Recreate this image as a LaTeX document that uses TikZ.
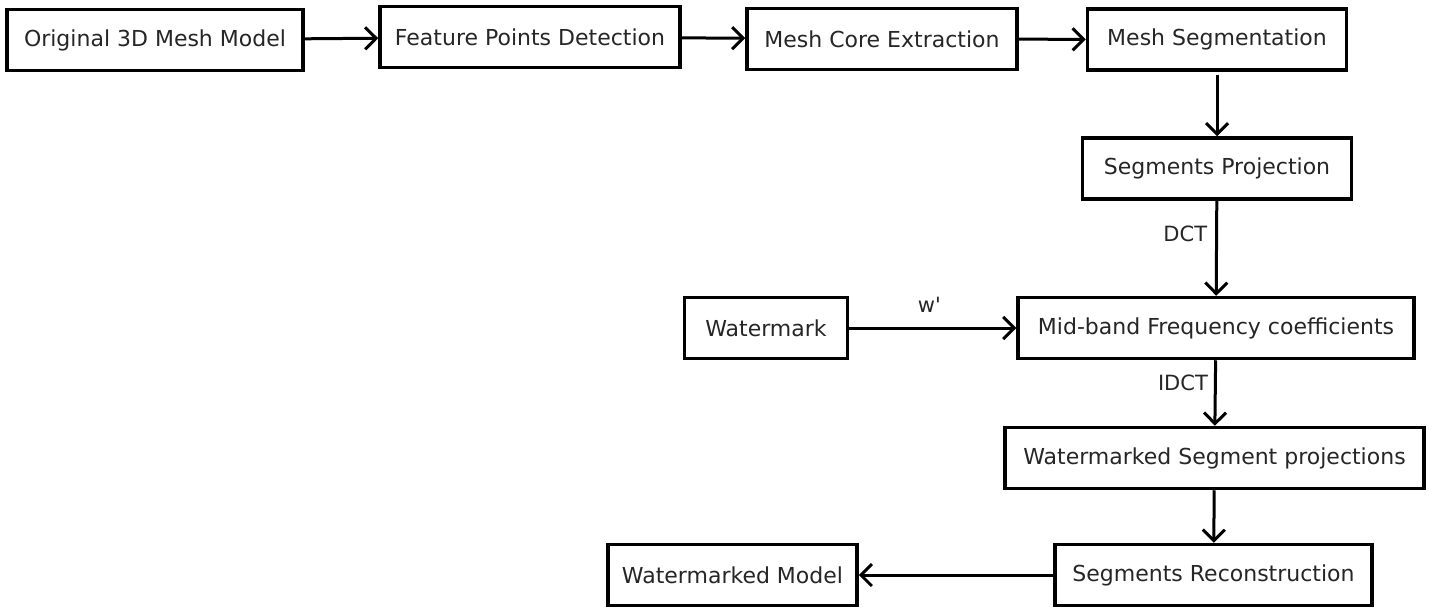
\documentclass[tikz,border=0pt]{standalone}
\usepackage{fontspec}
\setmainfont{DejaVu Sans}
\usetikzlibrary{arrows.meta}
\begin{document}
\begin{tikzpicture}[x=1pt,y=-1pt,
  box/.style={draw, line width=3.5pt, minimum width=#1, minimum height=61pt, inner sep=0pt,
    font=\fontsize{22}{26}\selectfont, text=black!85},
  arr/.style={line width=3pt, -{Straight Barb[length=11pt,width=22pt]}},
  lbl/.style={font=\fontsize{21}{24}\selectfont, text=black!85, inner sep=0pt}]
\useasboundingbox[fill=white] (0,0) rectangle (1435,608);
\node[box=296pt] (orig) at (155,40) {Original 3D Mesh Model};
\node[box=300pt] (feat) at (530,37) {Feature Points Detection};
\node[box=270pt] (core) at (882,39) {Mesh Core Extraction};
\node[box=259pt] (seg) at (1217,39.5) {Mesh Segmentation};
\node[box=269pt] (proj) at (1217,168.5) {Segments Projection};
\node[box=396pt] (mid) at (1216,328) {Mid-band Frequency coefficients};
\node[box=163pt] (wm) at (766,328) {Watermark};
\node[box=419pt] (wsp) at (1214.5,458) {Watermarked Segment projections};
\node[box=317pt] (rec) at (1213.5,575) {Segments Reconstruction};
\node[box=249pt] (model) at (732.5,575) {Watermarked Model};
\draw[arr] (orig) -- (feat);
\draw[arr] (feat) -- (core);
\draw[arr] (core) -- (seg);
\draw[arr, shorten <=3pt] (seg) -- (proj);
\draw[arr] (proj) -- node[lbl, left=8pt, pos=0.35] (dct) {DCT} (mid);
\draw[arr] (wm) -- node[lbl, above=14pt, pos=0.48] (wp) {w\textquotesingle} (mid);
\draw[arr] (mid) -- node[lbl, left=6pt, pos=0.35] (idct) {IDCT} (wsp);
\draw[arr] (wsp) -- (rec);
\draw[arr] (rec) -- (model);
\end{tikzpicture}
\end{document}
